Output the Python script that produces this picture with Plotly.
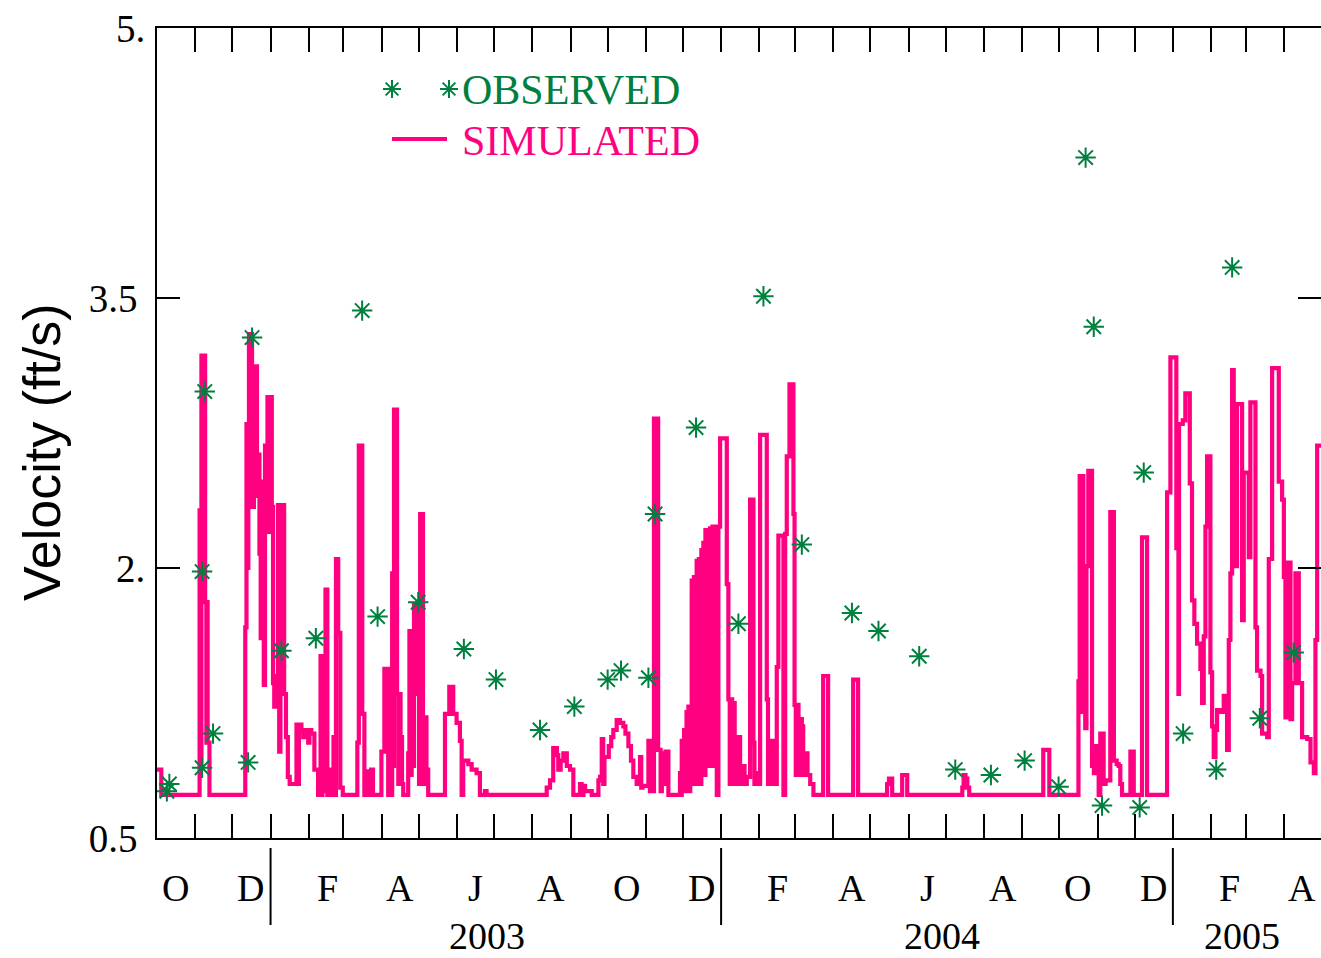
import pandas as pd
import plotly.graph_objects as go

# Record starts on the first day of water year 2003
START = pd.Timestamp("2002-10-01")
END = pd.Timestamp("2005-05-01")

PINK = "#ff0080"
GREEN = "#00803f"

# Simulated velocity (ft/s), step series: day since START, value held until next day entry
sim_day = [
    0, 3.5, 34.5, 35.5, 36, 39, 40, 40.5, 41, 42.5,
    71.5, 72.5, 73.5, 74, 74.5, 75.5, 76, 77, 78.5, 79.5, 80, 81, 82, 83, 84, 85, 86, 86.5,
    87.5, 88.5, 89.5, 91, 91.5, 93, 94, 95, 96, 97, 98, 99, 100, 101, 102, 103, 104.5, 106,
    107.5, 113, 114, 115, 117, 118.5, 120, 122.5, 123.5, 125, 127.5, 130.5,
    132.5, 133.3, 134, 135, 135.5, 136.5, 138, 139, 140, 141, 142, 143, 144, 145, 146.8,
    148.5, 150.5, 162.3, 163.5, 166.3, 168, 171, 172, 173.5, 175, 181.8, 184.2, 187.3,
    190.5, 191.3, 192, 194.5, 195.5, 196.3, 197.3, 198.5, 199.5, 203.5, 204.5, 205.5, 206.3,
    207.3, 208.2, 209.2, 210, 211.4, 212.3, 213.2, 215.5, 216.5, 217, 218.3, 219.7,
    233.3, 236.8, 240, 242.7, 245.4, 246.8, 248.1, 252.2, 254.9, 258.9, 261.6, 265.7, 267,
    315.7, 318.4, 321, 324, 325.1, 327, 329.2, 332, 334.6, 337.3, 342.7, 344, 345.5, 346.8,
    352.2, 357.6, 359, 360.3, 361.5, 362.5, 364.3, 366, 368, 369.7, 372.4, 375, 377.8, 379.5,
    381.9, 384, 385.9, 388.6, 391.3, 392.3, 393.3, 395.4, 398.1, 399.3, 400.5, 401.5, 402.6,
    406, 408, 409, 411, 412, 414.3,
    423.7, 424.5, 425.1, 426, 427, 428, 429, 430, 430.5, 431.5, 432, 433.2, 434, 435, 436,
    437.2, 438, 439, 440, 441, 442, 442.6, 443.5, 444.3, 445.3, 446, 447, 448, 449, 450, 451,
    451.8, 453.5, 454.8, 456.2, 461.6, 462.9, 464, 465, 466, 467, 468, 469.7, 470.5, 471.5,
    472.4, 474, 475, 476, 477.8, 480.5, 483.2, 484, 485.9, 487, 488.6, 494, 495, 496.7, 497.5,
    498.5, 499.4, 500.5, 502.1, 503.4, 507.5, 508.9, 510.2, 512.4, 515.6, 516.5, 517.5, 518.5,
    519.7, 520.5, 521.5, 522.4, 523.5, 525.1, 527, 529.2, 531.8,
    539.7, 543.7, 564, 568, 591.5, 593, 595.6, 603.7, 607.8, 652.4, 653.5, 655, 656.5, 658,
    718, 722.9,
    746.5, 747.5, 748.3, 749, 750.5, 752, 753, 754.5, 757.5, 759, 760, 761.5, 762.9, 764.2,
    766.9, 768.5, 772.3, 775.2, 777.5, 779.1, 780.4, 781.8, 788.6, 791.3, 798, 802.1,
    818.3, 821, 825.8, 827.5, 828, 831, 833.1, 836.7, 838.5, 840.4, 842.6, 845.3, 846.7, 848,
    849.4, 850.7, 853.4, 854.8, 856.1, 857.5, 858.8, 861.5, 864.2, 866.9, 868.3, 869.6, 871,
    872.3, 873.7, 875, 879.1, 880.4, 884.5, 885.8, 889.9, 891.2, 894, 895.3, 899.4, 900.7,
    903.4, 908.8, 911.5, 912.9, 914.2, 915.6, 918.3, 919.6, 922.3, 925, 927.7, 931.8, 934.5,
    937.2, 938.5, 939.9, 943.5,
]
sim_vel = [
    0.88, 0.74, 2.32, 0.90, 3.18, 1.81, 1.03, 1.81, 1.03, 0.74,
    1.67, 2.80, 2.00, 2.80, 3.30, 2.60, 3.30, 2.34, 3.12, 2.40, 3.12, 2.60, 2.63, 2.08, 1.61, 2.48, 1.80, 1.35,
    2.68, 2.20, 2.95, 2.20, 2.95, 2.34, 1.36, 1.23, 1.40, 1.23, 2.35, 0.98, 2.35, 1.30, 2.35, 1.30, 1.06, 0.84,
    0.80, 1.13, 0.80, 1.13, 1.10, 1.06, 1.10, 1.03, 1.10, 1.08, 0.88, 0.74,
    1.51, 0.74, 1.51, 0.76, 1.51, 1.88, 0.74, 0.88, 0.74, 0.88, 0.74, 1.06, 0.74, 2.05, 1.64,
    0.78, 0.74, 1.03, 2.68, 1.19, 0.74, 0.87, 0.74, 0.88, 0.74, 0.98, 1.44, 0.74,
    1.97, 0.90, 2.88, 1.30, 0.80, 1.30, 1.06, 0.80, 0.74, 0.97, 1.65, 0.85, 1.65,
    0.90, 1.80, 1.30, 1.80, 1.65, 0.80, 2.30, 1.17, 0.80, 1.17, 0.88, 0.74,
    1.19, 1.34, 1.19, 1.14, 1.04, 0.74, 0.93, 0.91, 0.88, 0.86, 0.74, 0.76, 0.74,
    0.78, 0.82, 1.00, 0.96, 0.88, 0.93, 0.97, 0.90, 0.88, 0.74, 0.80, 0.74, 0.79, 0.76,
    0.74, 0.82, 0.84, 1.05, 0.80, 0.95, 0.95, 1.01, 1.06, 1.10, 1.155, 1.14, 1.12, 1.08,
    1.01, 0.93, 0.84, 0.80, 0.95, 0.78, 0.79, 0.79, 1.04, 0.76, 1.04, 0.76, 2.83,
    0.99, 0.76, 0.97, 0.80, 0.98, 0.74,
    0.86, 0.74, 1.04, 0.76, 1.10, 0.76, 1.20, 0.76, 1.23, 0.76, 1.23, 1.93, 0.80, 1.95, 0.80,
    2.04, 0.80, 2.05, 0.80, 2.10, 0.85, 2.14, 0.85, 2.21, 0.90, 2.21, 0.90, 2.22, 0.90, 2.23, 0.90,
    2.23, 0.74, 2.23, 2.72, 1.91, 1.27, 0.80, 1.27, 0.80, 1.25, 0.80, 1.06, 0.80, 1.06,
    0.90, 0.80, 0.90, 0.80, 0.84, 2.38, 1.03, 0.80, 0.86, 0.80, 2.74, 1.27, 0.80, 1.04, 0.80,
    1.04, 0.95, 0.80, 1.45, 2.18, 0.74, 2.19, 2.62, 3.02, 2.30, 1.24, 0.85, 1.24,
    1.16, 0.85, 1.16, 1.12, 0.85, 0.97, 0.85, 0.80, 0.74,
    1.40, 0.74, 1.38, 0.74, 0.80, 0.83, 0.74, 0.85, 0.74, 0.78, 0.85, 0.83, 0.78, 0.74,
    0.99, 0.74,
    1.37, 2.51, 1.20, 2.51, 2.01, 1.11, 2.01, 2.54, 0.90, 0.86, 1.01, 0.86, 0.74, 1.08,
    0.80, 0.82, 2.31, 0.93, 0.91, 0.90, 0.80, 0.74, 0.98, 0.74, 2.17, 0.74,
    2.42, 3.17, 2.11, 1.30, 2.80, 2.82, 2.97, 2.47, 1.82, 1.69, 1.58, 1.44, 1.25, 1.62,
    2.23, 2.62, 1.42, 1.12, 0.95, 1.10, 1.21, 1.20, 1.29, 0.99, 1.60, 1.97, 3.10,
    2.56, 2.01, 2.91, 1.71, 2.53, 2.06, 2.92, 1.67, 1.43, 1.40, 1.08, 1.06, 2.05,
    3.11, 2.48, 2.38, 1.95, 1.17, 2.03, 1.16, 1.36, 1.97, 1.36, 1.06, 1.05, 0.92,
    0.86, 1.60, 2.68, 2.68,
]

# Observed velocity samples (ft/s)
obs_day = [
    8, 10, 36.5, 36.5, 38.7, 45.4, 73.8, 77.0, 100.8, 128.7, 166.2, 178.7, 211.6,
    248.6, 274.6, 310.3, 338.1, 365.1, 375.9, 398.1, 403.5, 436.7, 471.0, 491.3,
    522.4, 563.0, 584.5, 617.5, 646.7, 675.6, 702.9, 730.4, 752.3, 758.9, 765.6,
    796.1, 799.4, 831.3, 858.1, 871.0, 893.4, 920.9,
]
obs_vel = [
    0.76, 0.80, 0.89, 1.98, 2.98, 1.08, 0.92, 3.28, 1.54, 1.61, 3.43, 1.73, 1.81,
    1.55, 1.38, 1.10, 1.23, 1.38, 1.43, 1.39, 2.30, 2.78, 1.69, 3.51,
    2.13, 1.75, 1.65, 1.51, 0.88, 0.85, 0.93, 0.785, 4.28, 3.34, 0.68,
    0.67, 2.53, 1.08, 0.88, 3.67, 1.165, 1.53,
]

y_ticks = [0.5, 2.0, 3.5, 5.0]
y_tick_text = ["0.5\u2009", "2.", "3.5\u2009", "5."]
month_letters = ["O", "D", "F", "A", "J", "A", "O", "D", "F", "A", "J", "A", "O", "D", "F", "A"]
years = ["2003", "2004", "2005"]
year_label_dates = ["2003-06-25", "2004-06-28", "2005-02-26"]

sim_dates = START + pd.to_timedelta(sim_day, unit="D")
obs_dates = START + pd.to_timedelta(obs_day, unit="D")
month_starts = pd.date_range(START, END, freq="MS")
letter_dates = pd.date_range(START, periods=len(month_letters), freq="2MS") + pd.Timedelta(days=15)

W, H = 1321, 958
L, R, T, B = 157, 0, 28, 120
PW, PH = W - L - R, H - T - B

def px_x(px):
    return (px - L) / PW

def px_y(py):
    return (H - B - py) / PH

SERIF = "Liberation Serif"
SANS = "Liberation Sans"

fig = go.Figure()
fig.add_trace(go.Scatter(
    x=sim_dates, y=sim_vel, mode="lines",
    line=dict(color=PINK, width=4.2, shape="hv"),
    showlegend=False, hoverinfo="skip",
))
star = dict(symbol="asterisk-open", size=17, color=GREEN, line=dict(color=GREEN, width=2))
fig.add_trace(go.Scatter(
    x=obs_dates, y=obs_vel, mode="markers", marker=star,
    showlegend=False, hoverinfo="skip",
))
# legend key symbols on an overlay axis in plot-fraction units
fig.add_trace(go.Scatter(
    x=[px_x(392), px_x(449)], y=[px_y(89), px_y(89)], xaxis="x2", yaxis="y2",
    mode="markers", marker=dict(star, size=15), showlegend=False, hoverinfo="skip",
))

shapes = []
for yr in years:
    shapes.append(dict(type="line", xref="x", yref="paper", x0=f"{yr}-01-01", x1=f"{yr}-01-01",
                       y0=px_y(848), y1=px_y(925), line=dict(color="black", width=2)))
for v in y_ticks[1:-1]:
    shapes.append(dict(type="line", xref="paper", yref="y", x0=1 - 23 / PW, x1=1, y0=v, y1=v,
                       line=dict(color="black", width=2)))
shapes.append(dict(type="line", xref="paper", yref="paper", x0=px_x(392), x1=px_x(447),
                   y0=px_y(139), y1=px_y(139), line=dict(color=PINK, width=4)))

annotations = []
for d, s in zip(letter_dates, month_letters):
    annotations.append(dict(x=d, y=px_y(888), xref="x", yref="paper", text=s, showarrow=False,
                            xanchor="center", yanchor="middle",
                            font=dict(family=SERIF, size=38, color="black")))
for d, s in zip(year_label_dates, years):
    annotations.append(dict(x=d, y=px_y(958), xref="x", yref="paper", text=s, showarrow=False,
                            xanchor="center", yanchor="bottom", borderpad=0,
                            font=dict(family=SERIF, size=38, color="black")))
annotations.append(dict(x=px_x(42), y=px_y(452), xref="paper", yref="paper",
                        text="Velocity (ft/s)", textangle=-90, showarrow=False,
                        xanchor="center", yanchor="middle",
                        font=dict(family=SANS, size=52, color="black")))
annotations.append(dict(x=px_x(460), y=px_y(90), xref="paper", yref="paper", text="OBSERVED",
                        showarrow=False, xanchor="left", yanchor="middle",
                        font=dict(family=SERIF, size=42, color=GREEN)))
annotations.append(dict(x=px_x(460), y=px_y(141), xref="paper", yref="paper", text="SIMULATED",
                        showarrow=False, xanchor="left", yanchor="middle",
                        font=dict(family=SERIF, size=42, color=PINK)))

fig.update_layout(
    width=W, height=H,
    margin=dict(l=L, r=R, t=T, b=B, pad=0),
    paper_bgcolor="white", plot_bgcolor="white",
    showlegend=False,
    xaxis=dict(
        type="date", range=[START, END], tickvals=month_starts, showticklabels=False,
        ticks="inside", ticklen=24, tickwidth=2, tickcolor="black",
        showline=True, linecolor="black", linewidth=2, mirror="ticks",
        showgrid=False, zeroline=False,
    ),
    yaxis=dict(
        range=[0.5, 5.0], tickvals=y_ticks, ticktext=y_tick_text,
        ticks="inside", ticklen=23, tickwidth=2, tickcolor="black",
        showline=True, linecolor="black", linewidth=2,
        showgrid=False, zeroline=False, ticklabelstandoff=2,
        tickfont=dict(family=SERIF, size=39, color="black"),
    ),
    xaxis2=dict(overlaying="x", range=[0, 1], visible=False),
    yaxis2=dict(overlaying="y", range=[0, 1], visible=False),
    shapes=shapes,
    annotations=annotations,
)

fig.write_html("out.html")
